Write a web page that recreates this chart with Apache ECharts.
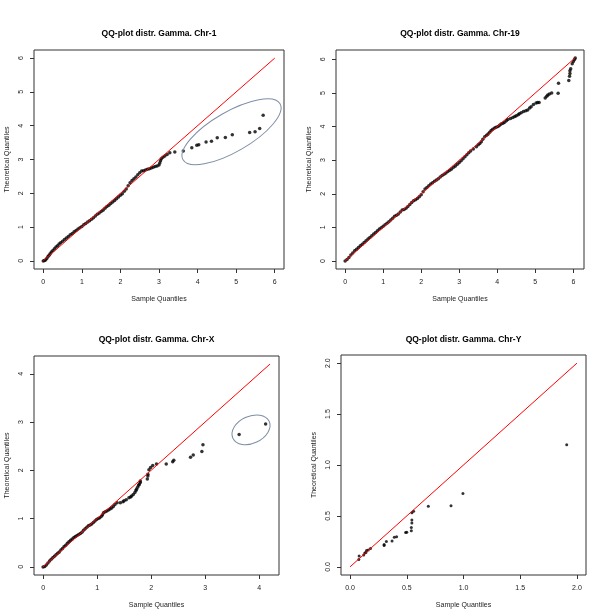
<!DOCTYPE html>
<html><head><meta charset="utf-8">
<script src="https://cdn.jsdelivr.net/npm/echarts@6/dist/echarts.min.js"></script>
<style>html,body{margin:0;padding:0;background:#fff}#c{width:600px;height:616px}</style>
</head><body><div id="c"></div><script>
// ---------- DATA ----------
const panelTitles = ['QQ-plot distr. Gamma. Chr-1','QQ-plot distr. Gamma. Chr-19','QQ-plot distr. Gamma. Chr-X','QQ-plot distr. Gamma. Chr-Y'];
const xAxisTitle = 'Sample Quantiles';
const yAxisTitle = 'Theoretical Quantiles';

const chr1Ticks = [0,1,2,3,4,5,6];
const chr19Ticks = [0,1,2,3,4,5,6];
const chrXTicks = [0,1,2,3,4];
const chrYTicks = [0,0.5,1,1.5,2];

// [sample quantile, theoretical quantile]
const chr1Points = [[0.00,0.00],[0.03,0.01],[0.06,0.03],[0.09,0.07],[0.12,0.12],[0.15,0.17],[0.18,0.21],[0.21,0.26],[0.25,0.31],[0.29,0.36],[0.33,0.41],[0.37,0.45],[0.41,0.50],[0.45,0.54],[0.50,0.58],[0.55,0.63],[0.60,0.68],[0.65,0.72],[0.70,0.77],[0.75,0.81],[0.80,0.86],[0.85,0.90],[0.90,0.94],[0.95,0.98],[1.00,1.02],[1.05,1.07],[1.10,1.11],[1.15,1.15],[1.20,1.19],[1.25,1.23],[1.30,1.28],[1.35,1.33],[1.40,1.38],[1.45,1.42],[1.50,1.46],[1.55,1.50],[1.60,1.56],[1.65,1.61],[1.70,1.65],[1.75,1.70],[1.80,1.74],[1.85,1.79],[1.90,1.84],[1.95,1.89],[2.00,1.94],[2.05,1.99],[2.10,2.06],[2.15,2.13],[2.20,2.22],[2.25,2.31],[2.30,2.38],[2.35,2.43],[2.40,2.48],[2.45,2.55],[2.50,2.61],[2.55,2.66],[2.60,2.67],[2.65,2.69],[2.70,2.71],[2.75,2.73],[2.80,2.75],[2.85,2.77],[2.90,2.79],[2.95,2.81],[3.00,2.84],[3.02,2.90],[3.04,2.96],[3.06,3.02],[3.10,3.07],[3.15,3.10],[3.21,3.15],[3.28,3.20],[3.41,3.22],[3.63,3.25],[3.85,3.35],[3.98,3.42],[4.03,3.44],[4.22,3.52],[4.36,3.54],[4.51,3.64],[4.72,3.65],[4.90,3.73],[5.35,3.80],[5.49,3.82],[5.61,3.92],[5.70,4.31]];

const chr19Points = [[0.00,0.00],[0.05,0.04],[0.10,0.10],[0.15,0.18],[0.20,0.24],[0.25,0.30],[0.30,0.35],[0.35,0.40],[0.40,0.45],[0.45,0.50],[0.50,0.55],[0.55,0.60],[0.60,0.65],[0.65,0.70],[0.70,0.75],[0.75,0.80],[0.80,0.85],[0.85,0.90],[0.90,0.95],[0.95,0.99],[1.00,1.03],[1.05,1.08],[1.10,1.12],[1.15,1.17],[1.20,1.22],[1.25,1.27],[1.30,1.33],[1.35,1.36],[1.40,1.40],[1.45,1.46],[1.50,1.52],[1.55,1.53],[1.60,1.57],[1.65,1.62],[1.70,1.68],[1.75,1.74],[1.80,1.79],[1.85,1.82],[1.90,1.86],[1.95,1.91],[2.00,1.97],[2.05,2.06],[2.10,2.14],[2.15,2.19],[2.20,2.24],[2.25,2.29],[2.30,2.33],[2.35,2.37],[2.40,2.41],[2.45,2.45],[2.50,2.50],[2.55,2.54],[2.60,2.58],[2.65,2.62],[2.70,2.66],[2.75,2.70],[2.80,2.74],[2.85,2.79],[2.90,2.83],[2.95,2.88],[3.00,2.93],[3.05,2.98],[3.10,3.04],[3.15,3.10],[3.20,3.16],[3.25,3.22],[3.30,3.27],[3.37,3.33],[3.45,3.40],[3.50,3.46],[3.54,3.50],[3.58,3.55],[3.62,3.62],[3.67,3.70],[3.72,3.74],[3.76,3.78],[3.80,3.83],[3.84,3.88],[3.88,3.92],[3.93,3.96],[3.97,3.98],[4.02,4.00],[4.06,4.04],[4.10,4.08],[4.15,4.10],[4.19,4.13],[4.24,4.17],[4.28,4.21],[4.35,4.24],[4.41,4.27],[4.46,4.30],[4.50,4.32],[4.55,4.35],[4.58,4.38],[4.63,4.41],[4.69,4.45],[4.75,4.47],[4.80,4.49],[4.85,4.55],[4.89,4.59],[4.95,4.66],[5.02,4.70],[5.06,4.72],[5.10,4.72],[5.26,4.85],[5.30,4.90],[5.33,4.94],[5.37,4.97],[5.43,5.00],[5.60,4.99],[5.61,5.29],[5.88,5.37],[5.90,5.50],[5.91,5.58],[5.91,5.66],[5.93,5.72],[5.97,5.87],[6.00,5.94],[6.03,6.00],[6.05,6.04]];

const chrXPoints = [[0.00,0.00],[0.03,0.01],[0.06,0.04],[0.09,0.08],[0.12,0.12],[0.15,0.16],[0.18,0.19],[0.21,0.22],[0.24,0.25],[0.27,0.28],[0.30,0.31],[0.33,0.35],[0.36,0.38],[0.39,0.42],[0.42,0.45],[0.45,0.49],[0.48,0.52],[0.51,0.55],[0.54,0.58],[0.57,0.61],[0.60,0.63],[0.63,0.65],[0.66,0.67],[0.69,0.69],[0.72,0.72],[0.75,0.76],[0.78,0.79],[0.81,0.82],[0.84,0.85],[0.87,0.87],[0.90,0.89],[0.93,0.92],[0.96,0.95],[0.99,0.98],[1.02,1.00],[1.05,1.02],[1.08,1.05],[1.10,1.08],[1.12,1.12],[1.15,1.14],[1.18,1.16],[1.21,1.18],[1.24,1.20],[1.27,1.22],[1.30,1.25],[1.33,1.29],[1.37,1.33],[1.43,1.33],[1.48,1.35],[1.50,1.37],[1.54,1.39],[1.59,1.43],[1.62,1.45],[1.64,1.47],[1.67,1.50],[1.70,1.54],[1.72,1.58],[1.73,1.61],[1.75,1.65],[1.77,1.69],[1.78,1.71],[1.80,1.75],[1.80,1.78],[1.93,1.82],[1.94,1.88],[1.94,1.92],[1.96,2.01],[1.99,2.06],[2.03,2.10],[2.10,2.13],[2.28,2.13],[2.40,2.18],[2.42,2.21],[2.73,2.27],[2.78,2.32],[2.94,2.39],[2.96,2.53],[3.63,2.74],[4.12,2.96]];

const chrYPoints = [[0.077,0.073],[0.08,0.106],[0.12,0.116],[0.13,0.136],[0.14,0.14],[0.145,0.16],[0.16,0.166],[0.18,0.18],[0.30,0.21],[0.30,0.22],[0.32,0.25],[0.37,0.255],[0.39,0.29],[0.41,0.295],[0.49,0.337],[0.50,0.34],[0.54,0.354],[0.54,0.387],[0.545,0.43],[0.545,0.46],[0.545,0.53],[0.56,0.545],[0.69,0.595],[0.89,0.60],[0.995,0.72],[1.91,1.20]];

// reference line end (y = x from 0 to this value)
const refLineEnds = [6.0, 6.05, 4.2, 2.0];
// outlier rings (centres in data units)
const chr1RingCentre = [4.88, 3.82];
const chrXRingCentre = [3.85, 2.84];

// ---------- CHART ----------
const FONT = "'Liberation Sans', Arial, Helvetica, sans-serif";
const grids = [
  {left:34, top:50, width:250, height:219},
  {left:336, top:50, width:248, height:219},
  {left:34, top:356, width:245, height:219},
  {left:341, top:355, width:245, height:220}
];
const ranges = [[-0.24,6.24],[-0.24,6.28],[-0.168,4.368],[-0.08,2.08]];
const ticks = [chr1Ticks, chr19Ticks, chrXTicks, chrYTicks];
const fmts = [v=>String(v), v=>String(v), v=>String(v), v=>v.toFixed(1)];
const pointSizes = [3.5, 3.5, 3.5, 3];

const xAxes = [], yAxes = [];
grids.forEach((g,i)=>{
  const common = {
    type:'value', gridIndex:i, min:ranges[i][0], max:ranges[i][1],
    splitLine:{show:false},
    axisLine:{show:false, onZero:false},
    axisTick:{show:true, inside:false, length:4, customValues:ticks[i], lineStyle:{color:'#333', width:1}},
    nameLocation:'middle',
    nameTextStyle:{fontSize:7, fontFamily:FONT, color:'#222'}
  };
  xAxes.push(Object.assign({}, common, {
    name:xAxisTitle, nameGap:27,
    axisLabel:{customValues:ticks[i], formatter:fmts[i], margin:10, fontSize:7, fontFamily:FONT, color:'#222'}
  }));
  yAxes.push(Object.assign({}, common, {
    name:yAxisTitle, nameGap:23,
    axisLabel:{customValues:ticks[i], formatter:fmts[i], rotate:90, margin:9, fontSize:7, fontFamily:FONT, color:'#222'}
  }));
});

const allPoints = [chr1Points, chr19Points, chrXPoints, chrYPoints];
const series = [];
allPoints.forEach((pts,i)=>{
  series.push({type:'scatter', xAxisIndex:i, yAxisIndex:i, data:pts, symbol:'circle', symbolSize:pointSizes[i], itemStyle:{color:'#000'}, z:2, silent:true});
});
refLineEnds.forEach((e,i)=>{
  series.push({type:'line', xAxisIndex:i, yAxisIndex:i, data:[[0,0],[e,e]], symbol:'none', lineStyle:{color:'#ff0000', width:1}, z:3, silent:true});
});
function ring(rx, ry, deg){
  return function(params, api){
    const c = api.coord([api.value(0), api.value(1)]);
    return {type:'ellipse', x:c[0], y:c[1], rotation:deg*Math.PI/180,
      shape:{cx:0, cy:0, rx:rx, ry:ry},
      style:{fill:null, stroke:'#7f8ea6', lineWidth:1}};
  };
}
series.push({type:'custom', xAxisIndex:0, yAxisIndex:0, data:[chr1RingCentre], renderItem:ring(56,20,30), z:4, silent:true, clip:false});
series.push({type:'custom', xAxisIndex:2, yAxisIndex:2, data:[chrXRingCentre], renderItem:ring(20,13.5,25), z:4, silent:true, clip:false});

const titleGraphics = grids.map((g,i)=>({
  type:'text', x:g.left + g.width/2, y:(i<2?33.5:340),
  style:{text:panelTitles[i], textAlign:'center', textVerticalAlign:'middle', font:"bold 8.5px "+FONT, fill:'#000'}
}));

const chart = echarts.init(document.getElementById('c'), null, {renderer:'canvas'});
chart.setOption({
  animation:false,
  backgroundColor:'#fff',
  grid: grids.map(g=>Object.assign({show:true, borderColor:'#333', borderWidth:1, backgroundColor:'transparent', containLabel:false}, g)),
  xAxis:xAxes, yAxis:yAxes,
  graphic:titleGraphics,
  series:series
});
</script></body></html>
